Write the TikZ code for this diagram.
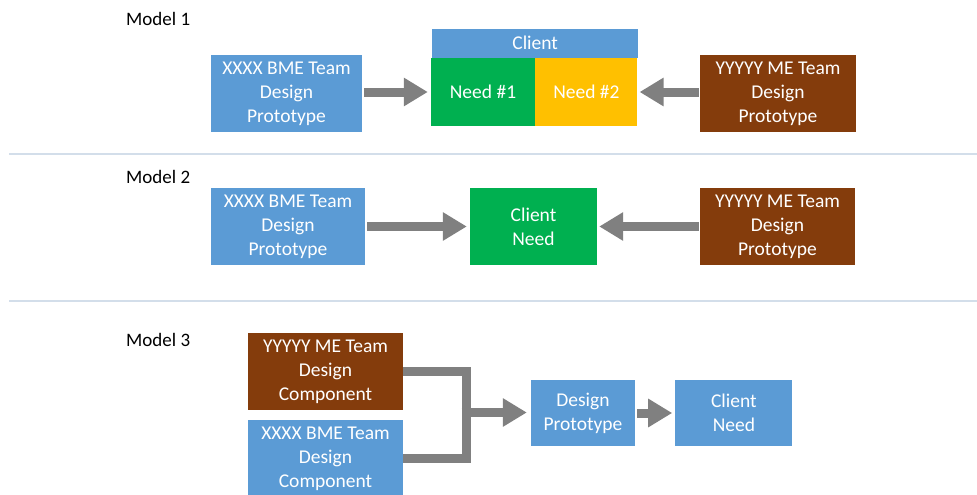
\documentclass[tikz,border=0pt]{standalone}
\usepackage{fontspec}
\setmainfont{Carlito}
\usepackage{xcolor}
\usepackage{tikz}
\usetikzlibrary{arrows.meta, positioning}

\definecolor{boxblue}{HTML}{5B9BD5}
\definecolor{boxgreen}{HTML}{00B050}
\definecolor{boxgold}{HTML}{FFC000}
\definecolor{boxbrown}{HTML}{843C0C}
\definecolor{arrgray}{HTML}{808080}
\definecolor{rulegray}{HTML}{D3DEEA}

\begin{document}
\begin{tikzpicture}[x=1pt, y=-1pt,
  box/.style={fill=#1, text=white, inner sep=0pt, align=center,
              minimum width=154pt, minimum height=77pt,
              font=\fontsize{19.5}{24}\selectfont},
  box/.default=boxblue,
  lbl/.style={anchor=west, inner sep=0pt, font=\fontsize{19}{22}\selectfont},
  fatarr/.style={draw=arrgray, line width=9pt,
                 -{Triangle[length=24pt, width=27pt]}, arrgray},
  elbow/.style={draw=arrgray, line width=9pt},
  sep/.style={draw=rulegray, line width=2pt}
]
\clip (0,0) rectangle (977,495);
\fill[white] (0,0) rectangle (977,495);

% Model 1
\node[lbl] (m1) at (126,19) {Model 1};
\node[box, minimum width=151pt] (bmeA) at (286.5,93.5)
    {XXXX BME Team\\Design\\Prototype};
\node[box=boxgreen, minimum width=104pt, minimum height=68pt] (needA)
    at (483,92) {Need \#1};
\node[box=boxgold, minimum width=102pt, minimum height=68pt,
      right=0pt of needA] (needB) {Need \#2};
\node[box, minimum width=206pt, minimum height=29pt,
      above=0pt of needA.north east] (clientA) {Client};
\node[box=boxbrown, minimum width=156pt] (yyA) at (778,93.5)
    {YYYYY ME Team\\Design\\Prototype};
\draw[fatarr, shorten <=2pt, shorten >=3pt]
    (bmeA.east |- needA) -- (needA.west);
\draw[fatarr, shorten <=1pt, shorten >=2pt]
    (yyA.west |- needB) -- (needB.east);

\draw[sep] (9,153.5) -- (977,153.5);

% Model 2
\node[lbl] (m2) at (126,177) {Model 2};
\node[box] (bmeB) at (288,226.5) {XXXX BME Team\\Design\\Prototype};
\node[box=boxgreen, minimum width=127pt] (clientB) at (533.5,226.5)
    {Client\\Need};
\node[box=boxbrown, minimum width=155pt] (yyB) at (777.5,226.5)
    {YYYYY ME Team\\Design\\Prototype};
\draw[fatarr, shorten <=2pt, shorten >=3pt] (bmeB.east) -- (clientB.west);
\draw[fatarr, shorten <=1pt, shorten >=2pt] (yyB.west) -- (clientB.east);

\draw[sep] (9,301) -- (977,301);

% Model 3
\node[lbl] (m3) at (126,340) {Model 3};
\node[box=boxbrown, minimum width=155pt] (yyC) at (325.5,371.5)
    {YYYYY ME Team\\Design\\Component};
\node[box, minimum width=155pt, below=10pt of yyC] (bmeC)
    {XXXX BME Team\\Design\\Component};
\node[box, minimum width=104pt, minimum height=66pt] (proto) at (583,413)
    {Design\\Prototype};
\node[box, minimum width=117pt, minimum height=66pt,
      right=40pt of proto] (clientC) {Client\\Need};
\coordinate (join) at (466,412.5);
\draw[elbow] (yyC.east) -| ([yshift=-4.5pt]join |- bmeC.east);
\draw[elbow] (bmeC.east) -- ([xshift=4.5pt]join |- bmeC.east);
\draw[fatarr, shorten >=4pt] ([xshift=-4.5pt]join) -- (join -| proto.west);
\draw[fatarr, shorten <=2pt, shorten >=3pt] (proto.east) -- (clientC.west);
\end{tikzpicture}
\end{document}
